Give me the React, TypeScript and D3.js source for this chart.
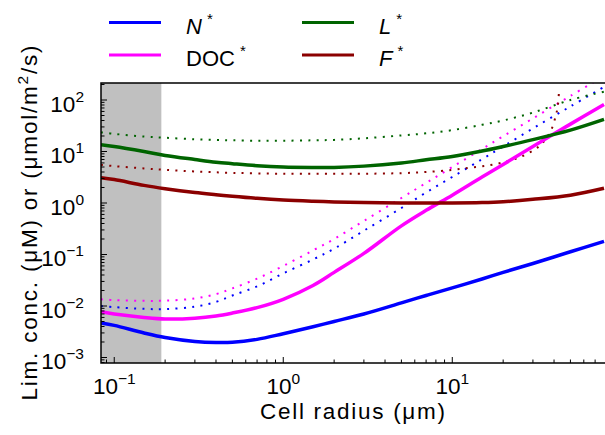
import React from "react";
import * as d3 from "d3";

const radius = [0.0835, 0.1, 0.15, 0.2, 0.3, 0.4, 0.5, 0.7, 1, 1.5, 2, 3, 5, 7, 10, 15, 20, 30, 50, 79];
const nSolid = [4.7e-3, 4.2e-3, 3.0e-3, 2.45e-3, 2.05e-3, 1.95e-3, 1.97e-3, 2.25e-3, 2.9e-3, 3.95e-3, 5.0e-3, 7.0e-3, 1.15e-2, 1.6e-2, 2.25e-2, 3.35e-2, 4.5e-2, 6.7e-2, 0.113, 0.18];
const docSolid = [7.7e-3, 7.0e-3, 6.0e-3, 5.6e-3, 5.8e-3, 6.4e-3, 7.3e-3, 9.3e-3, 0.0135, 0.025, 0.045, 0.105, 0.36, 0.72, 1.42, 3.2, 5.6, 12.5, 34, 82];
const lSolid = [13.5, 12.5, 10, 8.4, 7, 6.2, 5.8, 5.3, 5.0, 4.9, 4.9, 5.2, 6.0, 6.9, 8.0, 10.2, 12.5, 17, 26, 42];
const fSolid = [3.1, 2.85, 2.2, 1.9, 1.6, 1.45, 1.35, 1.23, 1.14, 1.08, 1.05, 1.02, 1.0, 1.0, 1.0, 1.02, 1.06, 1.18, 1.42, 1.93];
const nDot = [0.01, 0.0095, 0.0088, 0.0087, 0.0097, 0.012, 0.016, 0.024, 0.043, 0.08, 0.13, 0.29, 0.8, 1.6, 3.2, 7.1, 12.5, 28, 75, 180];
const docDot = [0.0135, 0.013, 0.0126, 0.0127, 0.014, 0.017, 0.022, 0.034, 0.06, 0.12, 0.2, 0.45, 1.25, 2.45, 5.0, 11.2, 19.8, 44, 120, 290];
const lDot = [23.5, 22, 19.5, 18.5, 17.3, 16.8, 16.5, 16.2, 16.2, 16.5, 16.8, 18, 20.5, 22.5, 26, 33, 40, 57, 100, 145];
const fDotRadius = [0.0835, 0.1, 0.15, 0.2, 0.3, 0.5, 1, 2, 3, 5, 7, 10, 13, 16.5, 20.5, 25.5, 31, 34, 38.4, 41.1, 42.1, 42.8];
const fDot = [5.5, 5.2, 4.7, 4.4, 4.1, 3.85, 3.7, 3.68, 3.7, 3.8, 4.0, 4.4, 4.9, 5.4, 6.3, 7.9, 11.2, 14.2, 25.8, 52, 76, 150];

const shadeEnd = 0.19;
const xMajor = [0.1, 1, 10];
const xMajorLabels = ["\u22121", "0", "1"];
const yMajor = [1e-3, 1e-2, 1e-1, 1, 10, 100];
const yMajorLabels = ["\u22123", "\u22122", "\u22121", "0", "1", "2"];

const series = [
  { r: radius, v: nDot, color: "#0000ff", dotted: true },
  { r: radius, v: docDot, color: "#ff00ff", dotted: true },
  { r: radius, v: lDot, color: "#006400", dotted: true },
  { r: fDotRadius, v: fDot, color: "#8b0000", dotted: true },
  { r: radius, v: nSolid, color: "#0000ff", dotted: false },
  { r: radius, v: docSolid, color: "#ff00ff", dotted: false },
  { r: radius, v: lSolid, color: "#006400", dotted: false },
  { r: radius, v: fSolid, color: "#8b0000", dotted: false },
];

const legend = [
  { label: "N", italic: true, color: "#0000ff", col: 0, row: 0 },
  { label: "DOC", italic: false, color: "#ff00ff", col: 0, row: 1 },
  { label: "L", italic: true, color: "#006400", col: 1, row: 0 },
  { label: "F", italic: true, color: "#8b0000", col: 1, row: 1 },
];

const FONT = "'Liberation Sans', Arial, Helvetica, sans-serif";

export default function App() {
  const left = 101, right = 604, top = 83, bottom = 363;
  const x = d3.scaleLog().domain([0.0835, 79]).range([left, right]);
  const yTopVal = Math.pow(10, 2 + (100 - top) / 51.5);
  const yBotVal = Math.pow(10, -3 - (bottom - 357.5) / 51.5);
  const y = d3.scaleLog().domain([yBotVal, yTopVal]).range([bottom, top]);

  const xMinor: number[] = [];
  for (let e = -2; e <= 1; e++) for (let m = 2; m <= 9; m++) {
    const v = m * Math.pow(10, e);
    if (v > x.domain()[0] && v < x.domain()[1]) xMinor.push(v);
  }
  const yMinor: number[] = [];
  for (let e = -4; e <= 2; e++) for (let m = 2; m <= 9; m++) {
    const v = m * Math.pow(10, e);
    if (v > y.domain()[0] && v < y.domain()[1]) yMinor.push(v);
  }

  const line = (r: number[], v: number[]) =>
    d3.line<number>().x((_, i) => x(r[i])).y((d) => y(d)).curve(d3.curveCatmullRom.alpha(0.5))(v) || "";

  return (
    <svg width={605} height={435} style={{ position: "absolute", left: 0, top: 0 }} fontFamily={FONT}>
      <defs>
        <clipPath id="plot">
          <rect x={left} y={top} width={right - left + 2} height={bottom - top} />
        </clipPath>
      </defs>
      <rect x={0} y={0} width={605} height={435} fill="#fff" />
      <rect x={left} y={top} width={x(shadeEnd) - left} height={bottom - top} fill="#c0c0c0" />
      <g clipPath="url(#plot)">
        {series.map((s, i) => (
          <path key={i} d={line(s.r, s.v)} fill="none" stroke={s.color}
            strokeWidth={s.dotted ? 2 : 3.5}
            strokeDasharray={s.dotted ? "2,6.3" : undefined} />
        ))}
      </g>
      <g stroke="#000" strokeWidth={1}>
        {xMajor.map((v, i) => <line key={"xM" + i} x1={x(v)} x2={x(v)} y1={bottom} y2={bottom - 6} />)}
        {xMinor.map((v, i) => <line key={"xm" + i} x1={x(v)} x2={x(v)} y1={bottom} y2={bottom - 3.5} />)}
        {yMajor.map((v, i) => <line key={"yM" + i} x1={left} x2={left + 6} y1={y(v)} y2={y(v)} />)}
        {yMinor.map((v, i) => <line key={"ym" + i} x1={left} x2={left + 3.5} y1={y(v)} y2={y(v)} />)}
      </g>
      <rect x={left} y={top} width={right - left + 4} height={bottom - top} fill="none" stroke="#000" strokeWidth={1.5} />
      {xMajor.map((v, i) => (
        <text key={"xl" + i} x={x(v)} y={394} fontSize={22.5} textAnchor="middle" fill="#000">
          10<tspan fontSize={15.5} dy={-10}>{xMajorLabels[i]}</tspan>
        </text>
      ))}
      {yMajor.map((v, i) => (
        <text key={"yl" + i} x={84} y={y(v) + 11.5} fontSize={22.5} textAnchor="end" fill="#000">
          10<tspan fontSize={15.5} dy={-10}>{yMajorLabels[i]}</tspan>
        </text>
      ))}
      <text x={(left + right) / 2} y={419} fontSize={22.5} textAnchor="middle" fill="#000"
        textLength={185} lengthAdjust="spacing">Cell radius (μm)</text>
      <text transform={`translate(37,${(top + bottom) / 2}) rotate(-90)`} fontSize={22.5} textAnchor="middle" fill="#000"
        textLength={355} lengthAdjust="spacing">
        Lim. conc. (μM) or (μmol/m<tspan fontSize={15.5} dy={-9}>2</tspan><tspan dy={9}>/s)</tspan>
      </text>
      {legend.map((l, i) => {
        const lx = l.col === 0 ? 109 : 302;
        const ly = l.row === 0 ? 22.5 : 55;
        return (
          <g key={"lg" + i}>
            <line x1={lx} x2={lx + 52} y1={ly} y2={ly} stroke={l.color} strokeWidth={3} />
            <text x={lx + 77} y={ly + 11} fontSize={22} fill="#000">
              <tspan fontStyle={l.italic ? "italic" : "normal"}>{l.label}</tspan>
              <tspan fontSize={15} dx={5} dy={-10}>*</tspan>
            </text>
          </g>
        );
      })}
    </svg>
  );
}
